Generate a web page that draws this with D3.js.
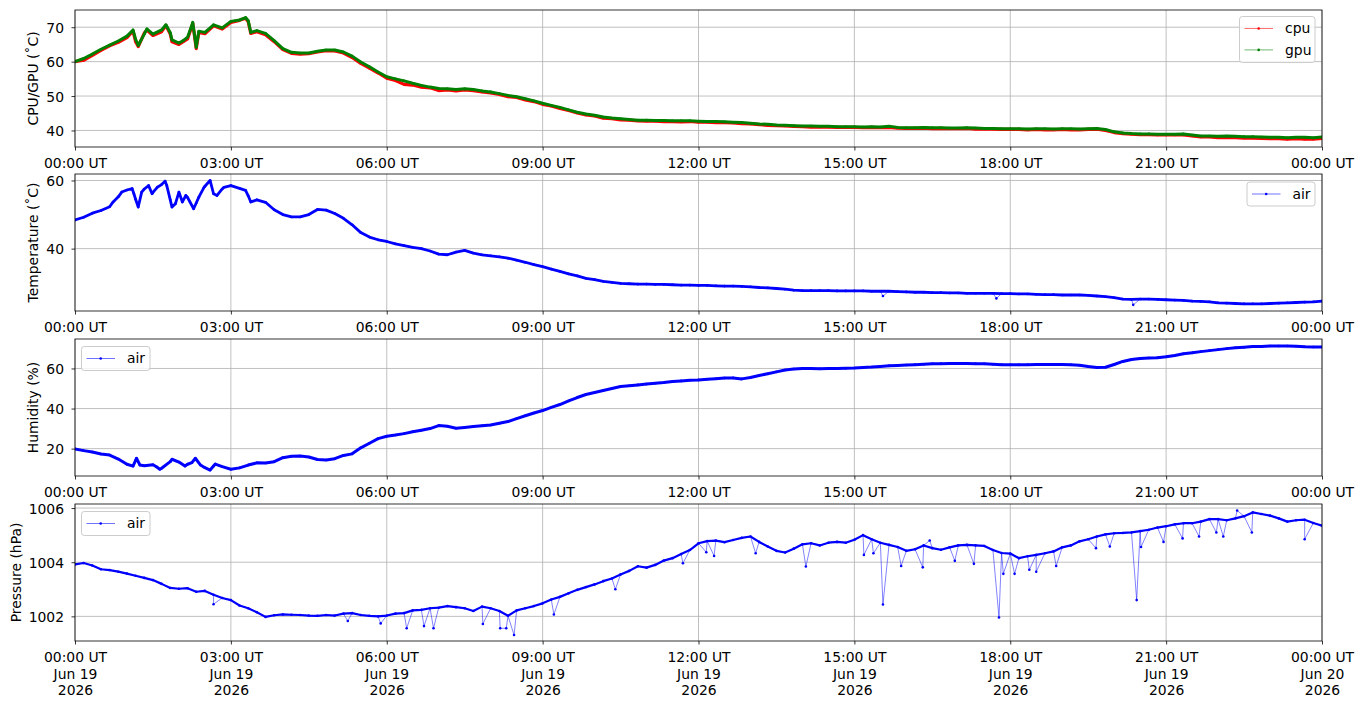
<!DOCTYPE html>
<html>
<head>
<meta charset="utf-8">
<script src="https://cdn.jsdelivr.net/npm/d3@7"></script>
<style>
  body { margin: 0; background: #fff; }
  text { font-family: "DejaVu Sans", sans-serif; font-size: 13.9px; fill: #000; }
</style>
</head>
<body>
<script>
// one day of readings, 19 Jun 2026 UT, sampled every 10 minutes
const dayStart = Date.UTC(2026, 5, 19);
const sampleMinutes = d3.range(0, 1441, 10);

const gpuTemp = [
  60.0, 60.9, 62.2, 63.6, 64.8, 66.0,
  67.4, 66.5, 68.0, 68.0, 69.2, 68.4,
  65.4, 67.1, 64.2, 68.5, 70.7, 69.8,
  71.7, 72.1, 71.9, 69.0, 68.2, 66.1,
  63.8, 62.7, 62.5, 62.5, 63.0, 63.4,
  63.4, 62.8, 61.6, 59.9, 58.5, 57.0,
  55.6, 55.0, 54.4, 53.7, 53.1, 52.6,
  52.2, 52.1, 51.9, 52.1, 51.9, 51.5,
  51.2, 50.7, 50.2, 49.8, 49.2, 48.6,
  47.9, 47.3, 46.7, 46.0, 45.3, 44.8,
  44.4, 43.9, 43.6, 43.4, 43.2, 43.0,
  43.0, 42.9, 42.9, 42.8, 42.8, 42.8,
  42.7, 42.6, 42.6, 42.5, 42.4, 42.3,
  42.1, 41.9, 41.8, 41.6, 41.5, 41.4,
  41.3, 41.3, 41.2, 41.2, 41.1, 41.1,
  41.1, 41.0, 41.1, 41.0, 41.2, 40.9,
  40.8, 40.8, 40.9, 40.8, 40.8, 40.7,
  40.7, 40.8, 40.7, 40.6, 40.6, 40.5,
  40.5, 40.5, 40.4, 40.5, 40.5, 40.4,
  40.5, 40.5, 40.4, 40.5, 40.6, 40.3,
  39.6, 39.3, 39.1, 39.0, 39.0, 38.9,
  38.9, 38.9, 39.0, 38.7, 38.4, 38.4,
  38.3, 38.4, 38.3, 38.2, 38.2, 38.1,
  38.0, 38.0, 37.9, 38.0, 38.0, 37.9,
  38.1
];
const gpuPeaks = [[67, 69.2], [73, 64.7], [83, 69.5], [105, 70.7], [112, 66.3],
  [125, 66.1], [136, 71.4], [143, 68.8], [197, 72.8], [203, 68.5]];

const cpuTemp = [
  60.0, 60.4, 61.8, 63.3, 64.6, 65.6,
  67.0, 65.8, 68.3, 67.6, 68.7, 68.0,
  65.0, 66.6, 63.8, 68.1, 70.4, 69.5,
  71.4, 72.0, 71.6, 68.7, 67.8, 65.8,
  63.5, 62.4, 62.2, 62.3, 62.8, 63.2,
  63.1, 62.5, 61.2, 59.5, 58.1, 56.7,
  55.2, 54.5, 53.4, 53.2, 52.6, 52.4,
  51.6, 51.8, 51.5, 51.8, 51.6, 51.2,
  50.9, 50.5, 49.8, 49.6, 48.9, 48.4,
  47.6, 47.1, 46.4, 45.8, 45.1, 44.5,
  44.2, 43.6, 43.4, 43.1, 43.0, 42.8,
  42.7, 42.7, 42.6, 42.6, 42.5, 42.6,
  42.4, 42.4, 42.3, 42.3, 42.2, 42.0,
  41.9, 41.7, 41.5, 41.4, 41.3, 41.2,
  41.1, 41.0, 41.0, 41.0, 40.9, 40.9,
  40.9, 40.8, 40.9, 40.8, 40.9, 40.7,
  40.6, 40.6, 40.7, 40.5, 40.6, 40.5,
  40.5, 40.6, 40.4, 40.4, 40.4, 40.3,
  40.3, 40.3, 40.2, 40.3, 40.2, 40.2,
  40.3, 40.2, 40.2, 40.3, 40.4, 40.0,
  39.4, 39.1, 38.9, 38.8, 38.8, 38.7,
  38.7, 38.7, 38.7, 38.4, 38.1, 38.1,
  37.9, 38.0, 37.9, 37.8, 37.8, 37.7,
  37.6, 37.6, 37.5, 37.6, 37.5, 37.5,
  37.7
];
const cpuPeaks = [[67, 68.9], [73, 64.4], [83, 69.2], [105, 70.5], [112, 65.8],
  [125, 65.8], [136, 71.1], [143, 68.5], [197, 72.6], [203, 68.2]];

const airTemp = [
  48.4, 49.2, 50.4, 51.2, 52.3, 55.2,
  57.2, 54.5, 57.5, 56.5, 58.8, 54.3,
  56.6, 55.0, 53.4, 58.3, 56.1, 57.5,
  58.5, 57.7, 55.5, 54.3, 53.6, 51.4,
  50.0, 49.3, 49.3, 50.0, 51.5, 51.3,
  50.3, 48.9, 47.0, 44.7, 43.4, 42.6,
  42.1, 41.4, 40.9, 40.4, 40.0, 39.3,
  38.4, 38.2, 39.0, 39.5, 38.7, 38.2,
  37.9, 37.6, 37.2, 36.6, 36.0, 35.3,
  34.7, 34.0, 33.3, 32.6, 32.0, 31.3,
  30.9, 30.4, 30.1, 29.8, 29.7, 29.6,
  29.6, 29.5, 29.5, 29.4, 29.3, 29.3,
  29.2, 29.2, 29.1, 29.0, 29.0, 28.9,
  28.8, 28.6, 28.5, 28.3, 28.1, 27.8,
  27.7, 27.7, 27.7, 27.7, 27.6, 27.6,
  27.6, 27.6, 27.5, 27.5, 27.5, 27.4,
  27.3, 27.2, 27.2, 27.1, 27.1, 27.0,
  27.0, 26.9, 26.9, 26.9, 26.9, 26.8,
  26.8, 26.7, 26.7, 26.6, 26.5, 26.5,
  26.4, 26.4, 26.4, 26.3, 26.1, 25.9,
  25.6, 25.2, 25.1, 25.2, 25.2, 25.1,
  25.0, 24.9, 24.8, 24.6, 24.5, 24.4,
  24.1, 24.0, 23.9, 23.8, 23.8, 23.8,
  23.9, 24.0, 24.1, 24.2, 24.3, 24.4,
  24.6
];
const airTempSwings = [[44, 53.7], [54, 56.6], [66, 57.6], [68, 56.1], [73, 52.2], [77, 56.6],
  [85, 58.5], [89, 56.1], [95, 58.0], [104, 59.8], [106, 58.5], [112, 52.2], [116, 53.2],
  [124, 53.7], [128, 55.6], [137, 51.7], [143, 55.1], [149, 58.0], [156, 60.0], [164, 55.6],
  [172, 58.0], [197, 57.1], [203, 53.7]];
const airTempDips = [[933, 26.1], [1064, 25.4], [1222, 23.5]];

const humidity = [
  19.8, 19.0, 18.3, 17.3, 16.8, 14.8,
  12.2, 14.2, 11.5, 12.0, 10.2, 13.5,
  13.3, 12.2, 14.6, 10.5, 11.3, 11.0,
  9.7, 10.4, 11.8, 12.9, 12.8, 13.5,
  15.5, 16.2, 16.3, 15.8, 14.6, 14.3,
  15.0, 16.6, 17.4, 20.4, 22.7, 25.0,
  26.2, 26.8, 27.5, 28.4, 29.2, 30.0,
  31.5, 31.2, 30.2, 30.6, 31.0, 31.4,
  31.8, 32.7, 33.5, 35.0, 36.4, 37.8,
  39.0, 40.6, 42.0, 43.8, 45.5, 47.0,
  48.0, 49.0, 50.0, 51.0, 51.4, 51.8,
  52.2, 52.6, 53.0, 53.5, 53.8, 54.1,
  54.3, 54.6, 54.9, 55.2, 55.3, 54.8,
  55.5, 56.5, 57.4, 58.3, 59.2, 59.7,
  60.0, 60.0, 59.8, 60.0, 60.0, 60.1,
  60.2, 60.5, 60.7, 61.0, 61.3, 61.5,
  61.7, 61.9, 62.1, 62.3, 62.4, 62.5,
  62.5, 62.5, 62.4, 62.3, 62.1, 61.9,
  61.8, 61.8, 61.9, 62.0, 62.0, 62.0,
  62.0, 61.8, 61.6, 61.0, 60.5, 60.6,
  62.0, 63.5, 64.5, 65.0, 65.2, 65.4,
  65.8, 66.5, 67.3, 67.8, 68.4, 68.9,
  69.4, 69.9, 70.3, 70.6, 70.9, 71.0,
  71.2, 71.2, 71.2, 71.1, 70.8, 70.7,
  70.7
];
const humiditySwings = [[67, 11.3], [71, 15.2], [75, 11.8], [94, 11.0], [98, 9.7], [112, 14.7],
  [127, 11.3], [135, 13.0], [139, 15.2], [145, 11.8], [156, 9.3], [162, 12.3]];

const pressure = [
  1003.92, 1003.97, 1003.88, 1003.74, 1003.71, 1003.65,
  1003.58, 1003.50, 1003.42, 1003.34, 1003.20, 1003.05,
  1003.02, 1003.04, 1002.91, 1002.94, 1002.80, 1002.68,
  1002.60, 1002.40, 1002.30, 1002.15, 1001.98, 1002.04,
  1002.07, 1002.06, 1002.05, 1002.03, 1002.02, 1002.05,
  1002.03, 1002.10, 1002.12, 1002.05, 1002.02, 1002.00,
  1002.03, 1002.10, 1002.12, 1002.22, 1002.24, 1002.30,
  1002.32, 1002.38, 1002.34, 1002.30, 1002.20, 1002.36,
  1002.30, 1002.20, 1002.02, 1002.22, 1002.30, 1002.38,
  1002.48, 1002.62, 1002.72, 1002.85, 1002.98, 1003.08,
  1003.18, 1003.30, 1003.40, 1003.55, 1003.68, 1003.85,
  1003.80, 1003.90, 1004.06, 1004.15, 1004.30, 1004.45,
  1004.70, 1004.78, 1004.80, 1004.74, 1004.82, 1004.90,
  1004.95, 1004.75, 1004.58, 1004.42, 1004.36, 1004.50,
  1004.66, 1004.70, 1004.62, 1004.72, 1004.75, 1004.72,
  1004.83, 1005.00, 1004.85, 1004.72, 1004.64, 1004.56,
  1004.42, 1004.48, 1004.62, 1004.52, 1004.46, 1004.55,
  1004.62, 1004.64, 1004.62, 1004.60, 1004.45, 1004.34,
  1004.32, 1004.15, 1004.22, 1004.27, 1004.33, 1004.40,
  1004.55, 1004.62, 1004.77, 1004.85, 1004.95, 1005.03,
  1005.07, 1005.08, 1005.10, 1005.15, 1005.20, 1005.28,
  1005.33, 1005.40, 1005.44, 1005.44, 1005.50, 1005.59,
  1005.59, 1005.55, 1005.62, 1005.70, 1005.84, 1005.78,
  1005.72, 1005.62, 1005.50, 1005.55, 1005.57, 1005.45,
  1005.35
];
const pressureDrops = [[160, 1002.45], [315, 1001.83], [353, 1001.74], [383, 1001.56], [403, 1001.64],
  [414, 1001.56], [471, 1001.72], [491, 1001.56], [498, 1001.56], [507, 1001.31], [553, 1002.07],
  [624, 1003.0], [702, 1003.96], [729, 1004.37], [738, 1004.23], [786, 1004.33], [844, 1003.84],
  [911, 1004.27], [922, 1004.33], [933, 1002.44], [954, 1003.86], [979, 1003.81], [987, 1004.8],
  [1016, 1004.05], [1038, 1003.94], [1067, 1001.96], [1072, 1003.57], [1085, 1003.57],
  [1102, 1003.72], [1110, 1003.65], [1133, 1003.86], [1179, 1004.52], [1195, 1004.58],
  [1226, 1002.60], [1231, 1004.56], [1257, 1004.75], [1279, 1004.88], [1298, 1004.95],
  [1318, 1005.10], [1326, 1004.95], [1342, 1005.91], [1359, 1005.10], [1420, 1004.85]];

const cpuTicks = [40, 50, 60, 70];
const airTicks = [40, 60];
const humidityTicks = [20, 40, 60];
const pressureTicks = [1002, 1004, 1006];

// ---------------------------------------------------------------

const width = 1363, height = 707;
const left = 75, right = 1322;

const svg = d3.select("body").append("svg")
  .attr("width", width)
  .attr("height", height);

const toDate = m => new Date(dayStart + m * 60000);
const x = d3.scaleUtc()
  .domain([toDate(0), toDate(1440)])
  .range([left, right]);

function gridPoints(values, extras) {
  const pts = sampleMinutes.map((m, i) => ({ m: m, v: values[i] }));
  (extras || []).forEach(e => pts.push({ m: e[0], v: e[1] }));
  return pts.sort((a, b) => a.m - b.m);
}

const panels = [
  { top: 10, bottom: 147, domain: [35.2, 75], ticks: cpuTicks, label: "CPU/GPU (˚C)", labelX: 38,
    legend: { x: 1239.5, y: 16.5, w: 75.5, h: 46 },
    series: [
      { name: "cpu", color: "red", band: 3.2, base: gridPoints(cpuTemp, cpuPeaks), spikes: [] },
      { name: "gpu", color: "green", band: 3, base: gridPoints(gpuTemp, gpuPeaks), spikes: [] }
    ] },
  { top: 174, bottom: 311, domain: [21.7, 61.9], ticks: airTicks, label: "Temperature (˚C)", labelX: 38,
    legend: { x: 1247, y: 182, w: 68, h: 24 },
    series: [
      { name: "air", color: "blue", band: 2.8, base: gridPoints(airTemp, airTempSwings), spikes: airTempDips }
    ] },
  { top: 339, bottom: 476, domain: [6.35, 74.7], ticks: humidityTicks, label: "Humidity (%)", labelX: 38,
    legend: { x: 81.5, y: 346.5, w: 68.5, h: 24 },
    series: [
      { name: "air", color: "blue", band: 3, base: gridPoints(humidity, humiditySwings), spikes: [] }
    ] },
  { top: 504, bottom: 641, domain: [1001.09, 1006.15], ticks: pressureTicks, label: "Pressure (hPa)", labelX: 20.5,
    legend: { x: 81.5, y: 511.5, w: 68.5, h: 24 }, dateLines: true,
    series: [
      { name: "air", color: "blue", band: 2.2, base: gridPoints(pressure), spikes: pressureDrops }
    ] }
];

const xTicks = x.ticks(d3.utcHour.every(3));
const hourFmt = d3.utcFormat("%H:%M UT");
const dayFmt = d3.utcFormat("%b %d");
const yearFmt = d3.utcFormat("%Y");

panels.forEach((p, i) => {
  const y = d3.scaleLinear().domain(p.domain).range([p.bottom, p.top]);
  const g = svg.append("g");

  g.append("clipPath").attr("id", "clip" + i)
    .append("rect")
    .attr("x", left).attr("y", p.top)
    .attr("width", right - left).attr("height", p.bottom - p.top);

  // grid
  g.append("g").selectAll("line").data(xTicks).join("line")
    .attr("x1", d => x(d)).attr("x2", d => x(d))
    .attr("y1", p.top).attr("y2", p.bottom)
    .attr("stroke", "#b0b0b0").attr("stroke-width", 0.8);
  g.append("g").selectAll("line").data(p.ticks).join("line")
    .attr("x1", left).attr("x2", right)
    .attr("y1", d => y(d)).attr("y2", d => y(d))
    .attr("stroke", "#b0b0b0").attr("stroke-width", 0.8);

  const line = d3.line()
    .x(d => x(toDate(d.m)))
    .y(d => y(d.v));

  const plot = g.append("g").attr("clip-path", "url(#clip" + i + ")");
  p.series.forEach(s => {
    const all = s.base.concat(s.spikes.map(e => ({ m: e[0], v: e[1] })))
      .sort((a, b) => a.m - b.m);
    // dense readings merge into a band
    plot.append("path")
      .attr("d", line(s.base))
      .attr("fill", "none")
      .attr("stroke", s.color)
      .attr("stroke-width", s.band)
      .attr("stroke-linejoin", "round")
      .attr("stroke-linecap", "round");
    plot.append("path")
      .attr("d", line(all))
      .attr("fill", "none")
      .attr("stroke", s.color)
      .attr("stroke-opacity", 0.7)
      .attr("stroke-width", 0.7);
    plot.append("g").selectAll("circle").data(all).join("circle")
      .attr("cx", d => x(toDate(d.m)))
      .attr("cy", d => y(d.v))
      .attr("r", 1.3)
      .attr("fill", s.color);
  });

  // frame
  g.append("rect")
    .attr("x", left).attr("y", p.top)
    .attr("width", right - left).attr("height", p.bottom - p.top)
    .attr("fill", "none").attr("stroke", "#000").attr("stroke-width", 0.8);

  // x axis
  const xa = g.append("g")
    .attr("transform", "translate(0," + p.bottom + ")")
    .call(d3.axisBottom(x).tickValues(xTicks).tickSize(3.5).tickPadding(7.6).tickFormat(hourFmt));
  xa.select(".domain").remove();
  xa.selectAll(".tick line").attr("stroke-width", 0.8);
  xa.selectAll("text").attr("font-size", null).attr("font-family", null);
  if (p.dateLines) {
    xa.selectAll(".tick text").each(function (d) {
      const t = d3.select(this);
      t.text(null);
      t.append("tspan").attr("x", 0).text(hourFmt(d));
      t.append("tspan").attr("x", 0).attr("dy", "1.19em").text(dayFmt(d));
      t.append("tspan").attr("x", 0).attr("dy", "1.17em").text(yearFmt(d));
    });
  }

  // y axis
  const ya = g.append("g")
    .attr("transform", "translate(" + left + ",0)")
    .call(d3.axisLeft(y).tickValues(p.ticks).tickSize(3.5).tickPadding(7.5).tickFormat(d3.format("d")));
  ya.select(".domain").remove();
  ya.selectAll(".tick line").attr("stroke-width", 0.8);
  ya.selectAll("text").attr("font-size", null).attr("font-family", null).attr("dy", "0.36em");

  g.append("text")
    .attr("transform", "translate(" + p.labelX + "," + ((p.top + p.bottom) / 2) + ") rotate(-90)")
    .attr("text-anchor", "middle")
    .text(p.label);

  // legend
  const L = p.legend;
  const lg = g.append("g");
  lg.append("rect")
    .attr("x", L.x).attr("y", L.y).attr("width", L.w).attr("height", L.h)
    .attr("rx", 2.8)
    .attr("fill", "#fff").attr("fill-opacity", 0.8)
    .attr("stroke", "#cccccc").attr("stroke-width", 1);
  p.series.forEach((s, k) => {
    const cy = L.y + 12 + k * 21.4;
    lg.append("line")
      .attr("x1", L.x + 5).attr("x2", L.x + 33.5)
      .attr("y1", cy).attr("y2", cy)
      .attr("stroke", s.color).attr("stroke-opacity", 0.7).attr("stroke-width", 0.8);
    lg.append("circle")
      .attr("cx", L.x + 19.2).attr("cy", cy).attr("r", 1.3)
      .attr("fill", s.color);
    lg.append("text")
      .attr("x", L.x + 45.5).attr("y", cy + 4.6)
      .text(s.name);
  });
});
</script>
</body>
</html>
